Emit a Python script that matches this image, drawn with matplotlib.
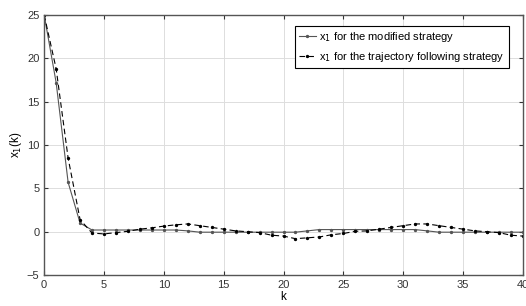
import numpy as np
import matplotlib.pyplot as plt

plt.rcParams['font.family'] = ['Liberation Sans', 'DejaVu Sans']

k = np.arange(0, 41)
x1_modified = [25, 17.2, 5.7, 1.0, 0.2, 0.2, 0.2, 0.2, 0.2, 0.2,
               0.2, 0.2, 0.1, -0.05, -0.05, -0.05, -0.05, -0.05, -0.05, -0.05,
               -0.05, -0.05, 0.1, 0.25, 0.25, 0.25, 0.25, 0.25, 0.25, 0.25,
               0.25, 0.25, 0.1, -0.05, -0.05, -0.05, -0.05, -0.05, -0.05, -0.05,
               -0.05]
x1_trajectory = [25, 18.8, 8.5, 1.4, -0.15, -0.25, -0.1, 0.05, 0.3, 0.45,
                 0.65, 0.8, 0.9, 0.7, 0.5, 0.3, 0.1, 0.0, -0.1, -0.4,
                 -0.5, -0.8, -0.7, -0.6, -0.35, -0.2, 0.05, 0.1, 0.3, 0.5,
                 0.7, 0.9, 0.9, 0.7, 0.5, 0.3, 0.1, 0.0, -0.1, -0.4,
                 -0.5]

fig = plt.figure(figsize=(5.26, 3.06), dpi=100)
ax = fig.add_axes([0.084, 0.101, 0.91, 0.85])

ax.plot(k, x1_modified, '-', color='#555555', marker='.', markersize=2.8,
        linewidth=0.8, label=r'x$_1$ for the modified strategy')
ax.plot(k, x1_trajectory, '--', color='black', marker='.', markersize=2.8,
        linewidth=0.8, dashes=(5, 3), label=r'x$_1$ for the trajectory following strategy')

ax.set_xlim(0, 40)
ax.set_ylim(-5, 25)
ax.set_xticks(range(0, 41, 5))
ax.set_yticks(range(-5, 26, 5))
ax.grid(True, color='#dddddd', linewidth=0.7)
ax.tick_params(direction='in', labelsize=8, length=3, colors='#333333',
               top=True, right=True)
for s in ax.spines.values():
    s.set_color('#555555')
    s.set_linewidth(1.0)

ax.set_xlabel('k', fontsize=8.5, labelpad=1)
ax.set_ylabel(r'x$_1$(k)', fontsize=8.5, labelpad=2)

leg = ax.legend(loc='upper right', fontsize=8, fancybox=False, framealpha=1,
                edgecolor='black', handlelength=1.5, handletextpad=0.3,
                borderaxespad=0.6, labelspacing=0.5, bbox_to_anchor=(0.985, 0.985))
leg.get_frame().set_linewidth(0.8)

fig.savefig('out.png', dpi=100)
